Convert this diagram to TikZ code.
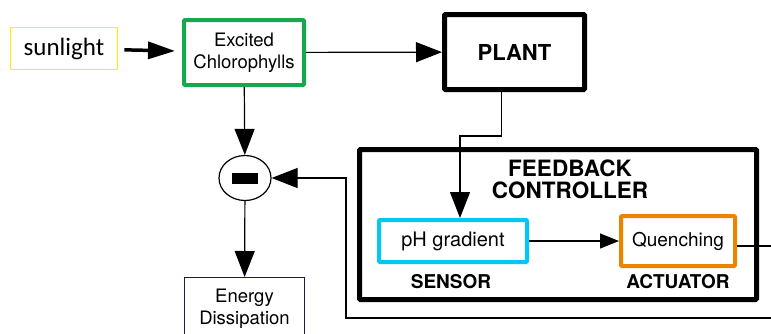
\documentclass[tikz,border=0pt]{standalone}
\usepackage{fontspec}
\setmainfont{TeX Gyre Heros}
\newfontfamily\calibrifont{Carlito}
\usetikzlibrary{positioning,arrows.meta,calc,shapes.geometric}
\definecolor{SunYellow}{RGB}{255,240,0}
\definecolor{ChlGreen}{RGB}{22,168,78}
\definecolor{SensorCyan}{RGB}{0,200,245}
\definecolor{ActOrange}{RGB}{236,132,0}
\definecolor{DissNavy}{RGB}{24,30,66}

\begin{document}
\begin{tikzpicture}[x=1pt,y=-1pt, every node/.style={font=\fontsize{18.5}{22}\selectfont},
    >={Triangle[length=26pt,width=20pt]}, line width=1.2pt]
  \useasboundingbox (0,0) rectangle (771,333);
  % blocks
  \node[draw=SunYellow, line width=1.6pt, minimum width=107pt, minimum height=42pt,
        font=\calibrifont\fontsize{25}{28}\selectfont] (sun) at (64,48.5) {sunlight};
  \node[draw=ChlGreen, line width=4pt, rounded corners=1pt, minimum width=120pt,
        minimum height=65pt, align=center] (chl) at (244,52.5) {Excited\\Chlorophylls};
  \node[draw, line width=5pt, rounded corners=1pt, minimum width=140pt, minimum height=75pt,
        font=\bfseries\fontsize{22}{24}\selectfont] (plant) at (514.5,52) {PLANT};
  \node[draw, ellipse, line width=1.2pt, minimum width=52pt, minimum height=45pt] (minus) at (245,178) {};
  \node[fill, minimum width=26pt, minimum height=11pt, inner sep=0pt] (minbar) at (minus) {};
  \node[draw=DissNavy, line width=1.2pt, minimum width=120pt, minimum height=62pt, align=center,
        anchor=north] (energy) at (244.5,277) {Energy\\Dissipation};
  \node[draw, line width=5pt, rounded corners=1pt, minimum width=397pt, minimum height=150pt] (fbc) at (558,224.5) {};
  \node[font=\bfseries\fontsize{22.5}{22}\selectfont, align=center] (fbtitle) at (570,179) {FEEDBACK\\CONTROLLER};
  \node[draw=SensorCyan, line width=4pt, rounded corners=1pt, minimum width=148pt,
        minimum height=42pt, font=\fontsize{20}{22}\selectfont] (ph) at (453,241) {pH gradient};
  \node[draw=ActOrange, line width=4pt, rounded corners=1pt, minimum width=114pt,
        minimum height=50pt, font=\fontsize{19}{22}\selectfont] (quench) at (678,241) {Quenching};
  \node[font=\bfseries\fontsize{19}{22}\selectfont] (sensor) at (451,282) {SENSOR};
  \node[font=\bfseries\fontsize{19}{22}\selectfont] (actuator) at (678,282) {ACTUATOR};
  % connectors
  \coordinate (bend) at (460,136);
  \coordinate (loopR) at (790,318);
  \coordinate (loopL) at (346,318);
  \draw[->, line width=3.5pt, >={Triangle[length=27pt,width=17pt]}, shorten <=6pt, shorten >=7pt] (sun) -- (chl);
  \draw[->] (chl) -- (plant);
  \draw[->] (chl) -- (minus);
  \draw[->] (minus) -- (energy);
  \draw[->] ([xshift=-13pt]plant.south) |- (bend) -- (bend |- ph.north);
  \draw[->, >={Triangle[length=19pt,width=15pt]}] (ph) -- (quench);
  \draw[->] ([yshift=-5pt]quench.east) -| (loopR) -- (loopL) |- (minus.east);
\end{tikzpicture}
\end{document}
